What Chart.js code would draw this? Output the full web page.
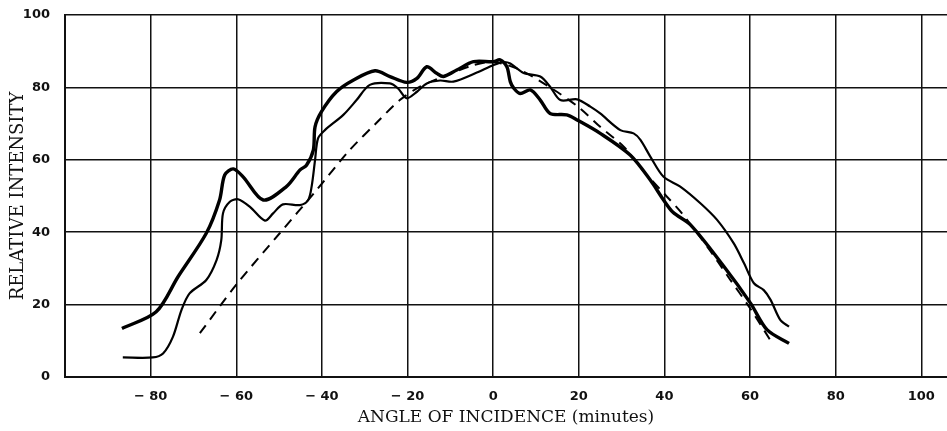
<!DOCTYPE html>
<html>
<head>
<meta charset="utf-8">
<script src="https://cdn.jsdelivr.net/npm/chart.js@4/dist/chart.umd.min.js"></script>
<style>
  html, body { margin: 0; padding: 0; background: #fff; }
  #wrap { width: 947px; height: 431px; }
</style>
</head>
<body>
<div id="wrap"><canvas id="grafico"></canvas></div>
<script>
// tick labels
const xTicks = [-100, -80, -60, -40, -20, 0, 20, 40, 60, 80, 100];
const yTicks = [0, 20, 40, 60, 80, 100];

// curva gruesa (arriba a la izquierda, abajo a la derecha)
const gruesaAngulo = [-86.7, -78.7, -73.6, -67.0, -63.9, -62.7, -60.7, -58.4, -53.7, -48.3, -45.1, -43.6, -42.0, -41.6, -40.1, -36.6, -32.7, -27.6, -24.1, -20.2, -17.8, -15.5, -13.2, -11.6, -8.5, -4.6, 0.1, 1.6, 3.2, 4.0, 4.8, 6.3, 8.7, 11.0, 13.3, 17.2, 19.6, 25.0, 32.0, 36.7, 39.8, 42.0, 46.1, 53.9, 60.1, 64.0, 69.1];
const gruesaValor  = [13.4, 18.0, 27.7, 39.7, 48.9, 55.8, 57.5, 55.3, 48.9, 52.6, 57.2, 58.5, 62.7, 69.1, 73.3, 78.8, 82.0, 84.6, 83.0, 81.4, 82.5, 85.7, 83.9, 83.0, 84.8, 87.1, 87.1, 87.6, 85.7, 81.6, 79.8, 78.3, 79.3, 76.5, 72.8, 72.4, 71.0, 67.3, 61.3, 54.4, 48.9, 45.5, 42.0, 30.5, 20.4, 13.0, 9.3];

// curva fina
const finaAngulo = [-86.5, -79.5, -77.1, -74.8, -72.8, -70.9, -67.0, -64.6, -63.5, -63.1, -61.5, -59.6, -56.8, -53.3, -51.4, -49.1, -45.1, -43.2, -42.4, -41.6, -40.9, -39.3, -35.0, -31.9, -28.8, -24.1, -22.2, -20.2, -17.8, -15.5, -12.4, -9.3, -3.8, 0.1, 2.4, 4.0, 7.1, 11.0, 13.3, 15.7, 19.6, 22.7, 25.0, 29.7, 32.8, 34.4, 36.7, 39.8, 43.7, 48.4, 52.3, 56.2, 58.6, 60.9, 63.2, 64.8, 67.1, 69.1];
const finaValor  = [5.4, 5.4, 6.5, 11.1, 18.5, 23.1, 26.8, 32.3, 37.8, 45.2, 48.4, 49.1, 47.0, 43.2, 45.2, 47.7, 47.5, 48.9, 52.6, 59.9, 65.9, 68.2, 72.4, 76.5, 80.7, 81.1, 79.7, 77.0, 78.8, 81.1, 81.9, 81.6, 84.1, 86.2, 87.0, 86.6, 84.0, 83.0, 80.2, 76.5, 76.7, 74.7, 72.8, 68.2, 67.3, 65.5, 60.9, 55.3, 52.6, 48.0, 43.4, 36.9, 31.4, 25.9, 24.0, 21.3, 15.7, 13.9];

// curva de trazos (teorica)
const trazosAngulo = [-68.5, -60.0, -50.0, -41.2, -33.5, -27.0, -21.8, -17.1, -11.6, -5.0, 0.0, 6.0, 13.7, 20.0, 25.0, 30.5, 35.0, 40.6, 44.1, 50.0, 55.0, 60.0, 65.2];
const trazosValor  = [12.1, 25.5, 39.5, 51.7, 62.7, 70.5, 76.5, 80.2, 83.0, 86.0, 87.0, 85.0, 79.7, 74.5, 69.1, 63.6, 57.0, 49.8, 45.2, 36.0, 27.5, 19.0, 9.3];

function puntos(xs, ys) {
  return xs.map((x, i) => ({ x: x, y: ys[i] }));
}

function formatoTick(v) {
  return v < 0 ? "\u2212 " + Math.abs(v) : String(v);
}

const fuenteTicks = { family: "DejaVu Sans", size: 13, weight: "bold" };

const ctx = document.getElementById("grafico").getContext("2d");
new Chart(ctx, {
  type: "line",
  data: {
    datasets: [
      {
        label: "gruesa",
        data: puntos(gruesaAngulo, gruesaValor),
        borderColor: "#000",
        borderWidth: 3.4,
        pointRadius: 0,
        tension: 0.3,
        fill: false
      },
      {
        label: "fina",
        data: puntos(finaAngulo, finaValor),
        borderColor: "#000",
        borderWidth: 2.2,
        pointRadius: 0,
        tension: 0.3,
        fill: false
      },
      {
        label: "trazos",
        data: puntos(trazosAngulo, trazosValor),
        borderColor: "#000",
        borderWidth: 2,
        borderDash: [10, 7],
        pointRadius: 0,
        tension: 0.3,
        fill: false
      }
    ]
  },
  options: {
    responsive: true,
    maintainAspectRatio: false,
    animation: false,
    layout: { padding: { top: 15, right: 0, bottom: 0, left: 0 } },
    plugins: {
      legend: { display: false },
      tooltip: { enabled: false }
    },
    scales: {
      x: {
        type: "linear",
        min: -100,
        max: 106,
        afterBuildTicks: scale => { scale.ticks = xTicks.map(v => ({ value: v })); },
        afterFit: scale => { scale.height = 54; },
        grid: { color: "#111", lineWidth: 1.5, drawTicks: false },
        border: { color: "#111", width: 2 },
        ticks: {
          padding: 12,
          color: "#111",
          font: fuenteTicks,
          callback: v => (v === -100 ? "" : formatoTick(v))
        },
        title: {
          display: true,
          text: "ANGLE OF INCIDENCE (minutes)",
          color: "#111",
          font: { family: "DejaVu Serif", size: 17 },
          padding: { top: 0, bottom: 3 }
        }
      },
      y: {
        min: 0,
        max: 100,
        afterBuildTicks: scale => { scale.ticks = yTicks.map(v => ({ value: v })); },
        afterFit: scale => {
          scale.width = 65;
          // que el padding de las etiquetas no empuje el area del grafico
          scale.paddingTop = 0;
          scale.paddingBottom = 0;
        },
        grid: { color: "#111", lineWidth: 1.5, drawTicks: false },
        border: { color: "#111", width: 2 },
        ticks: {
          padding: 15,
          color: "#111",
          font: fuenteTicks,
          callback: v => String(v)
        },
        title: {
          display: true,
          text: "RELATIVE INTENSITY",
          color: "#111",
          font: { family: "DejaVu Serif", size: 18 },
          padding: { top: 8, bottom: 0 }
        }
      }
    }
  }
});
</script>
</body>
</html>
